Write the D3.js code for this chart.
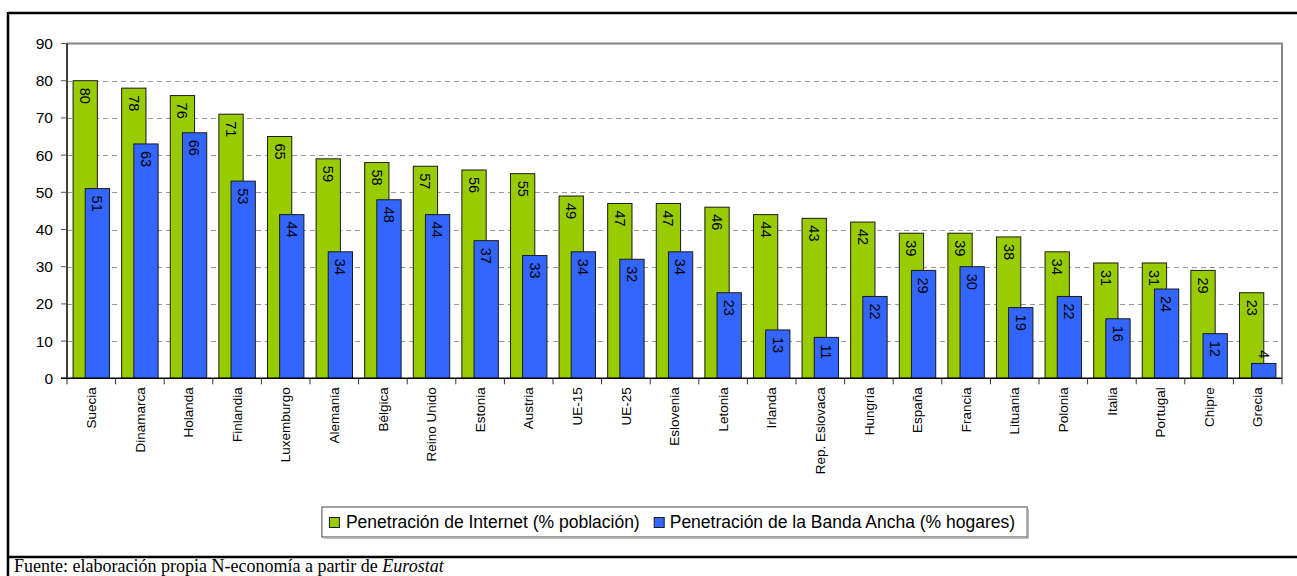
<!DOCTYPE html>
<html><head><meta charset="utf-8">
<script src="https://cdn.jsdelivr.net/npm/d3@7"></script>
<style>
html,body{margin:0;padding:0;background:#fff;overflow:hidden;}
svg{display:block;}
text{font-family:Arial,"Liberation Sans",sans-serif;}
text.serif{font-family:"Liberation Serif","Times New Roman",serif;}
</style></head>
<body>
<svg id="c" width="1297" height="576"></svg>
<script>
const categories = ["Suecia","Dinamarca","Holanda","Finlandia","Luxemburgo","Alemania","Bélgica","Reino Unido","Estonia","Austria","UE-15","UE-25","Eslovenia","Letonia","Irlanda","Rep. Eslovaca","Hungría","España","Francia","Lituania","Polonia","Italia","Portugal","Chipre","Grecia"];
const internet = [80,78,76,71,65,59,58,57,56,55,49,47,47,46,44,43,42,39,39,38,34,31,31,29,23];
const banda = [51,63,66,53,44,34,48,44,37,33,34,32,34,23,13,11,22,29,30,19,22,16,24,12,4];
const yTicks = [0,10,20,30,40,50,60,70,80,90];
const seriesNames = ["Penetración de Internet (% población)","Penetración de la Banda Ancha (% hogares)"];
const colors = ["#99CC00","#3366FF"];
const footnote = "Fuente: elaboración propia N-economía a partir de ";
const footnoteItalic = "Eurostat";

const svg = d3.select("#c");
const W = 1297, H = 576;
const plot = {l:67, r:1282, t:43.5, b:378.3};

const x = d3.scaleBand().domain(categories).range([plot.l, plot.r]).paddingInner(0).paddingOuter(0);
const y = d3.scaleLinear().domain([0,90]).range([plot.b, plot.t]);

// outer frame
svg.append("line").attr("x1",8).attr("x2",W+5).attr("y1",13).attr("y2",13).attr("stroke","#000").attr("stroke-width",2.5);
svg.append("line").attr("x1",8).attr("x2",8).attr("y1",12).attr("y2",H+5).attr("stroke","#000").attr("stroke-width",2.5);
svg.append("line").attr("x1",8).attr("x2",W+5).attr("y1",557).attr("y2",557).attr("stroke","#000").attr("stroke-width",2.5);

// gridlines
svg.append("g").selectAll("line").data(yTicks.filter(d=>d>0 && d<90)).join("line")
  .attr("x1",plot.l).attr("x2",plot.r).attr("y1",d=>Math.round(y(d))+0.5).attr("y2",d=>Math.round(y(d))+0.5)
  .attr("stroke","#9a9a9a").attr("stroke-width",1).attr("stroke-dasharray","5,4");

// plot border top/right
svg.append("path").attr("d",`M${plot.l},${plot.t}H${plot.r}V${plot.b}`).attr("fill","none").attr("stroke","#858585").attr("stroke-width",2);

// bars
const bw = x.bandwidth();
const barW = bw/2;
const off = [bw/8, bw/8 + barW/2];
const series = [internet, banda];
series.forEach((vals,si)=>{
  const g = svg.append("g");
  g.selectAll("rect").data(categories).join("rect")
    .attr("x",(d,i)=>x(d)+off[si]).attr("width",barW)
    .attr("y",(d,i)=>y(vals[i])).attr("height",(d,i)=>y(0)-y(vals[i]))
    .attr("fill",colors[si]).attr("stroke","#1a1a1a").attr("stroke-width",1);
});

// value labels
series.forEach((vals,si)=>{
  svg.append("g").selectAll("text").data(categories).join("text")
    .each(function(d,i){
      const cx = x(d)+off[si]+barW/2;
      const top = y(vals[i]);
      const h = y(0)-top;
      const t = d3.select(this).text(vals[i]).attr("font-size","14.5px").attr("fill","#000");
      const len = String(vals[i]).length*8.1;
      if (h > len + 12) {
        t.attr("text-anchor","start").attr("transform",`translate(${cx},${top+7}) rotate(90)`);
      } else {
        t.attr("text-anchor","end").attr("transform",`translate(${cx},${top-5}) rotate(90)`);
      }
      t.attr("dy","0.35em");
    });
});

// y axis
svg.append("line").attr("x1",plot.l).attr("x2",plot.l).attr("y1",plot.t).attr("y2",plot.b+1).attr("stroke","#000").attr("stroke-width",1.5);
svg.append("g").selectAll("line").data(yTicks).join("line")
  .attr("x1",plot.l-6).attr("x2",plot.l).attr("y1",d=>y(d)).attr("y2",d=>y(d)).attr("stroke","#555").attr("stroke-width",1);
svg.append("g").selectAll("text").data(yTicks).join("text")
  .attr("x",53).attr("y",d=>y(d)).attr("dy","0.36em").attr("text-anchor","end")
  .attr("font-size","15.5px").attr("fill","#000").text(d=>d);

// x axis
svg.append("line").attr("x1",plot.l-6).attr("x2",plot.r).attr("y1",plot.b).attr("y2",plot.b).attr("stroke","#000").attr("stroke-width",1.5);
const bounds = categories.map(d=>x(d)).concat([plot.r]);
svg.append("g").selectAll("line").data(bounds).join("line")
  .attr("x1",d=>d).attr("x2",d=>d).attr("y1",plot.b).attr("y2",plot.b+6).attr("stroke","#333").attr("stroke-width",1);
svg.append("g").selectAll("text").data(categories).join("text")
  .attr("transform",d=>`translate(${x(d)+bw/2},${plot.b+9}) rotate(-90)`)
  .attr("text-anchor","end").attr("dy","0.35em").attr("font-size","13.5px").attr("fill","#000").text(d=>d);

// legend
const lg = svg.append("g");
const box = lg.append("rect").attr("fill","#fff").attr("stroke","#444").attr("stroke-width",1);
const shadow = lg.append("path").attr("fill","none").attr("stroke","#aaa").attr("stroke-width",1.5);
const items = [];
seriesNames.forEach((n,i)=>{
  const sq = lg.append("rect").attr("width",10).attr("height",10).attr("fill",colors[i]).attr("stroke","#1a1a1a").attr("stroke-width",1);
  const tx = lg.append("text").attr("font-size","17.5px").attr("fill","#000").text(n);
  items.push({sq,tx});
});
const padL=7, gapSq=7, gapItem=14, padR=11;
const widths = items.map(it=>it.tx.node().getComputedTextLength());
const totalW = padL + 10 + gapSq + widths[0] + gapItem + 10 + gapSq + widths[1] + padR;
const lx = (plot.l+plot.r)/2 - totalW/2, ly = 507, lh = 30;
box.attr("x",lx).attr("y",ly).attr("width",totalW).attr("height",lh);
shadow.attr("d",`M${lx+2},${ly+lh+1}H${lx+totalW+1}V${ly+2}`);
let cursor = lx + padL;
items.forEach((it,i)=>{
  it.sq.attr("x",cursor+0.5).attr("y",ly+lh/2-5+0.5);
  cursor += 10 + gapSq - (i===1?1:0);
  it.tx.attr("x",cursor).attr("y",ly+lh/2).attr("dy","0.36em");
  cursor += widths[i] + gapItem;
});

// footnote
const fn = svg.append("text").attr("class","serif").attr("x",14).attr("y",571.5).attr("font-size","18px").attr("fill","#000");
fn.append("tspan").text(footnote);
fn.append("tspan").attr("font-style","italic").text(footnoteItalic);
</script>
</body></html>
